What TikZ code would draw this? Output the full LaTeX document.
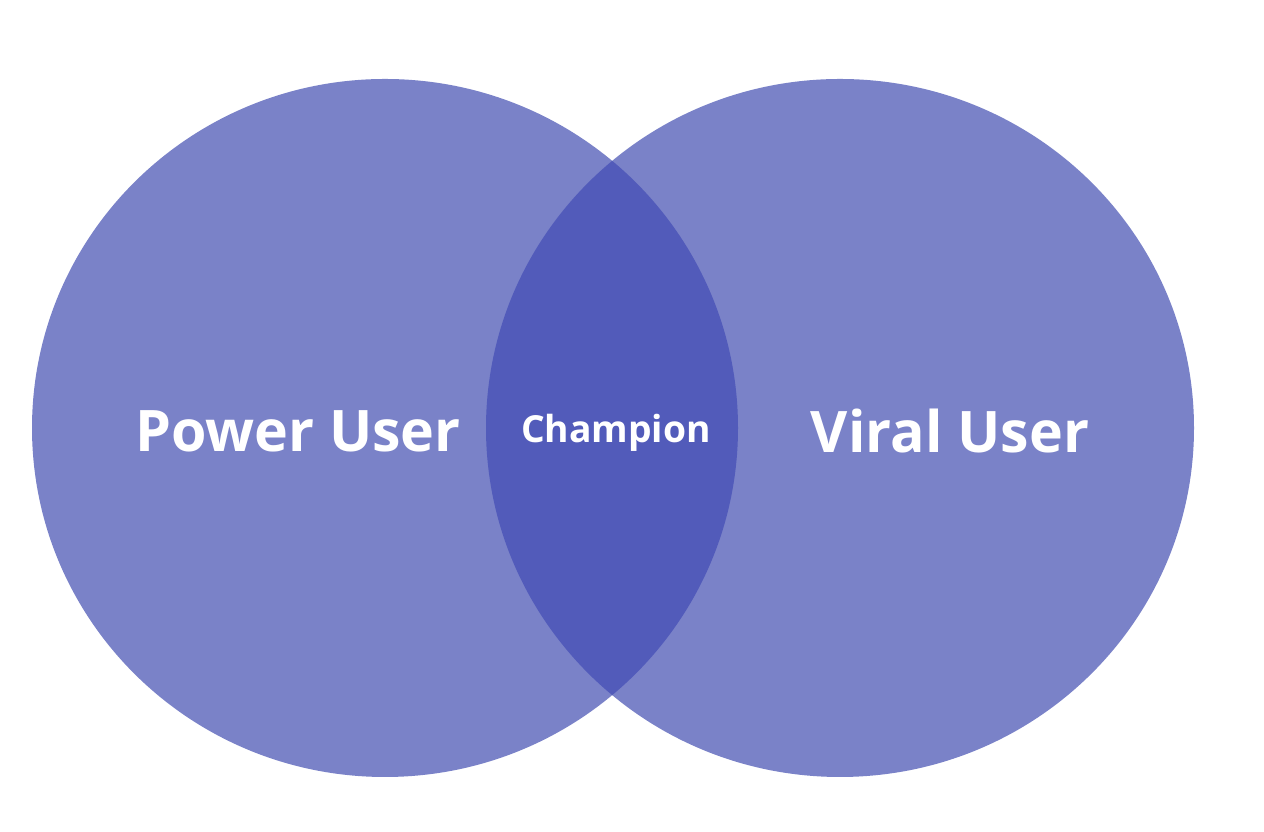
\documentclass[tikz,border=0pt]{standalone}
\usepackage{fontspec}
\setmainfont{Open Sans}
\usepackage{xcolor}
\usetikzlibrary{positioning}
\definecolor{setblue}{HTML}{7A82C8}
\definecolor{bothblue}{HTML}{525BBA}

\begin{document}
\begin{tikzpicture}
  \tikzstyle{every node}=[text=white, font=\bfseries]
  \useasboundingbox (0,0) rectangle (12.64,8.32);

  \fill[setblue] (3.85,4.04) ellipse [x radius=3.53, y radius=3.49];
  \fill[setblue] (8.40,4.04) ellipse [x radius=3.54, y radius=3.49];
  \begin{scope}
    \clip (3.85,4.04) ellipse [x radius=3.53, y radius=3.49];
    \fill[bothblue] (8.40,4.04) ellipse [x radius=3.54, y radius=3.49];
  \end{scope}

  \node[font=\bfseries\fontsize{16.3}{20}\selectfont]  (p) at (2.98, 4.01)  {Power User};
  \node[font=\bfseries\fontsize{10.6}{13}\selectfont]  (c) at (6.16, 3.99)  {Champion};
  \node[font=\bfseries\fontsize{16.3}{20}\selectfont]  (v) at (9.50, 4.01)  {Viral User};
\end{tikzpicture}
\end{document}
